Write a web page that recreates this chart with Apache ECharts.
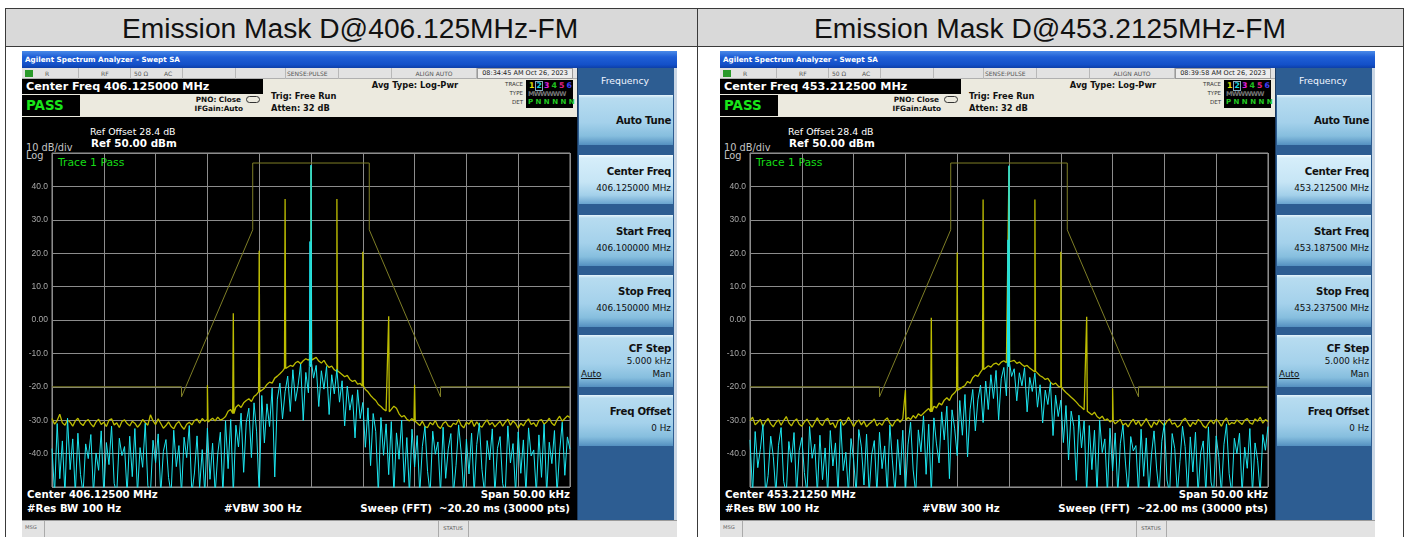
<!DOCTYPE html>
<html><head><meta charset="utf-8">
<script src="https://cdn.jsdelivr.net/npm/echarts@6/dist/echarts.min.js"></script>
<style>
html,body{margin:0;padding:0;background:#fff;}
#page{position:relative;width:1408px;height:537px;overflow:hidden;font-family:"Liberation Sans",Arial,sans-serif;}
#chart{position:absolute;left:0;top:0;width:1408px;height:537px;z-index:5;pointer-events:none;}
</style></head><body><div id="page"><div id="chart"></div></div>
<script>
// ---------- DATA ----------
const headerTitles = ['Emission Mask D@406.125MHz-FM', 'Emission Mask D@453.2125MHz-FM'];
const centerFreqText = ['406.125000 MHz', '453.212500 MHz'];
const centerBottomText = ['406.12500 MHz', '453.21250 MHz'];
const startFreqText = ['406.100000 MHz', '453.187500 MHz'];
const stopFreqText = ['406.150000 MHz', '453.237500 MHz'];
const timeStamp = ['08:34:45 AM Oct 26, 2023', '08:39:58 AM Oct 26, 2023'];
const sweepText = ['Sweep (FFT)&nbsp; ~20.20 ms (30000 pts)', 'Sweep (FFT)&nbsp; ~22.00 ms (30000 pts)'];
const yTickLabels = ['', '-40.0', '-30.0', '-20.0', '-10.0', '0.00', '10.0', '20.0', '30.0', '40.0', ''];
const freqStart = -25, freqStep = 0.25;   // kHz offset from centre, trace sample grid
const maskFreqs = [-25, -12.5, -12.5, -5.625, -5.625, 5.625, 5.625, 12.5, 12.5, 25];
const maskLevels = [-20, -20, -23, 27, 47, 47, 27, -23, -20, -20];
const spikeFreqs = [-10, -7.5, -5, -2.5, 0, 2.5, 5, 7.5, 10];
const spikePeaks406 = [-19.5, 2.0, 20.7, 36.2, 46.0, 36.2, 20.4, 1.1, -19.4];
const spikeBases406 = [-30.5, -28.0, -21.5, -14.5, -12.0, -15.2, -19.8, -27.5, -30.3];
const spikePeaks453 = [-21.0, 0.7, 20.2, 36.1, 46.0, 36.1, 20.4, 1.0, -20.5];
const spikeBases453 = [-30.0, -27.5, -21.0, -14.8, -12.5, -15.3, -20.0, -27.3, -30.2];
const cyanSpikeFreqs = [-0.1, 0];
const cyanSpikePeaks406 = [23.5, 46.4];
const cyanSpikePeaks453 = [24.0, 46.2];
const cyanSpikeBases = [-14.0, -13.0];
const yellow406 = [
-29.5,-31.2,-30.1,-28.2,-30.8,-31.5,-29.9,-30.6,-31.8,-30.2,
-29.4,-30.9,-31.6,-30.3,-29.8,-31.1,-32.0,-30.5,-29.7,-31.3,
-30.6,-31.9,-30.0,-29.6,-31.4,-30.8,-32.2,-30.4,-29.9,-31.0,
-31.7,-30.3,-30.9,-32.1,-31.2,-29.8,-30.7,-31.5,-28.4,-30.2,
-31.3,-29.6,-31.0,-32.4,-31.6,-30.5,-31.9,-32.6,-31.1,-30.4,
-31.8,-32.7,-31.2,-30.6,-31.4,-30.1,-29.7,-30.9,-29.5,-30.3,
-29.8,-30.7,-29.4,-30.2,-29.1,-30.0,-29.6,-28.9,-27.3,-26.8,
-27.9,-26.1,-25.4,-26.2,-24.8,-24.1,-23.6,-24.4,-22.9,-22.3,
-21.6,-21.2,-20.4,-19.3,-18.6,-18.9,-17.4,-16.8,-16.1,-15.3,
-14.6,-14.0,-13.6,-13.9,-12.8,-12.4,-13.1,-12.2,-11.6,-12.0,
-11.4,-11.8,-11.2,-12.3,-12.9,-12.1,-13.4,-14.2,-13.8,-14.9,
-15.4,-15.1,-16.3,-17.0,-16.6,-17.8,-18.4,-18.1,-19.2,-19.0,
-19.6,-20.8,-21.5,-22.6,-23.4,-24.1,-25.3,-25.9,-26.7,-27.2,
-27.6,-27.0,-25.8,-26.4,-28.1,-29.0,-28.6,-29.7,-30.2,-29.5,
-30.4,-30.8,-31.6,-30.3,-31.9,-32.2,-30.7,-31.4,-30.1,-31.8,
-32.5,-31.0,-30.4,-31.7,-32.0,-30.9,-31.3,-29.8,-31.5,-32.3,
-30.6,-31.2,-30.0,-31.9,-30.5,-31.6,-32.1,-30.8,-29.9,-31.4,
-30.7,-32.0,-31.1,-30.3,-31.8,-30.6,-29.7,-31.5,-30.2,-31.0,
-32.4,-30.9,-31.7,-30.4,-29.6,-31.3,-30.8,-31.9,-30.1,-29.8,
-31.2,-30.5,-29.4,-30.9,-31.6,-29.9,-28.8,-30.3,-29.5,-28.7,
-29.2];
const cyan406 = [
-38.5,-52,-31.0,-47.5,-36.2,-52,-29.4,-44.8,-35.6,-52,
-33.9,-46.2,-52,-37.1,-41.5,-34.3,-52,-39.8,-45.0,-33.2,
-52,-36.7,-43.3,-31.8,-48.9,-52,-35.4,-40.6,-37.9,-52,
-34.8,-46.9,-32.5,-52,-38.2,-44.1,-30.9,-49.6,-52,-36.0,
-42.7,-34.1,-52,-39.3,-35.8,-47.2,-52,-33.0,-43.9,-37.6,
-52,-35.1,-41.2,-31.6,-52,-45.8,-34.7,-50.3,-38.8,-52,
-32.4,-47.7,-36.9,-52,-40.1,-33.6,-52,-30.2,-44.5,-29.8,
-52,-31.5,-38.0,-27.9,-45.6,-30.7,-26.4,-41.2,-24.8,-33.5,
-52,-22.6,-36.8,-25.1,-31.9,-20.4,-47.0,-23.7,-18.9,-29.6,
-21.5,-16.8,-27.4,-14.9,-24.3,-19.6,-13.2,-30.1,-15.7,-21.8,
-12.9,-17.4,-13.6,-25.9,-15.2,-20.7,-13.9,-28.3,-16.4,-22.1,
-14.8,-24.6,-18.2,-31.7,-19.8,-27.0,-22.4,-35.3,-20.9,-29.5,
-24.7,-38.1,-26.3,-43.6,-28.0,-33.4,-52,-29.2,-40.5,-31.1,
-46.3,-30.4,-52,-33.8,-41.7,-30.0,-48.6,-35.2,-52,-32.7,
-44.0,-34.6,-52,-37.8,-31.9,-45.3,-52,-33.3,-40.2,-36.5,
-52,-32.1,-47.4,-38.6,-34.0,-52,-43.5,-31.4,-39.9,-52,
-35.7,-46.1,-33.9,-52,-37.3,-30.8,-44.7,-52,-36.1,-41.9,
-32.6,-52,-38.4,-34.9,-49.0,-52,-31.7,-42.8,-37.0,-52,
-33.5,-45.9,-35.9,-52,-32.3,-40.7,-38.9,-52,-34.4,-47.1,
-31.2,-52,-36.6,-43.0,-33.1,-52,-39.4,-30.6,-46.5,-35.0,
-38.7];
const yellow453 = [
-30.2,-29.1,-31.4,-30.6,-29.8,-31.9,-30.4,-29.5,-31.1,-32.0,
-30.7,-29.9,-31.5,-30.1,-28.9,-30.8,-31.7,-30.3,-29.6,-31.2,
-31.8,-30.5,-29.7,-31.0,-32.1,-30.6,-29.3,-30.9,-31.6,-30.0,
-29.4,-31.3,-30.8,-32.3,-30.2,-29.8,-31.5,-30.7,-29.1,-30.4,
-31.9,-30.6,-29.9,-31.4,-30.3,-32.0,-31.1,-30.5,-29.6,-31.7,
-30.8,-31.5,-30.0,-29.3,-30.9,-31.8,-30.4,-29.7,-30.6,-29.5,
-30.1,-29.2,-29.8,-28.6,-29.4,-28.1,-28.7,-27.9,-27.2,-26.5,
-27.4,-25.8,-26.3,-24.9,-25.4,-24.0,-23.3,-24.1,-22.5,-21.8,
-21.3,-20.9,-20.1,-19.6,-18.4,-18.9,-17.3,-16.5,-16.9,-15.6,
-14.8,-14.5,-13.7,-14.1,-13.2,-12.9,-13.5,-12.6,-12.2,-12.8,
-12.4,-12.7,-12.1,-13.0,-12.6,-13.3,-13.9,-13.6,-14.4,-15.0,
-15.6,-15.9,-16.7,-17.1,-17.8,-17.5,-18.6,-19.3,-18.9,-19.8,
-20.2,-20.9,-21.7,-22.4,-23.1,-23.8,-24.6,-25.5,-26.1,-26.9,
-27.3,-27.8,-28.4,-27.6,-28.9,-29.5,-28.8,-30.1,-29.6,-30.5,
-30.0,-31.1,-30.4,-29.8,-31.5,-30.9,-32.0,-30.6,-29.7,-31.3,
-30.2,-31.8,-30.7,-29.5,-31.0,-32.2,-30.5,-31.4,-29.9,-30.8,
-31.6,-30.3,-29.6,-31.2,-30.8,-32.1,-31.5,-30.1,-29.4,-30.7,
-31.9,-30.6,-31.3,-29.8,-30.4,-31.7,-32.3,-30.9,-30.0,-31.1,
-29.7,-30.5,-31.8,-30.2,-29.3,-31.4,-30.7,-31.0,-29.9,-30.6,
-31.3,-30.0,-29.5,-30.8,-31.2,-29.6,-30.3,-29.1,-30.9,-29.8,
-30.4];
const cyan453 = [
-35.9,-52,-33.4,-44.2,-38.7,-31.3,-52,-46.6,-34.8,-40.9,
-52,-37.5,-32.2,-48.3,-52,-36.4,-42.6,-33.7,-52,-39.1,
-35.2,-45.7,-52,-31.9,-41.4,-37.2,-52,-34.5,-47.8,-38.3,
-52,-33.1,-43.7,-36.8,-52,-30.5,-45.1,-39.6,-52,-35.5,
-41.8,-52,-32.8,-38.0,-49.4,-34.2,-52,-40.3,-36.1,-52,
-33.6,-44.5,-37.7,-52,-31.4,-42.2,-52,-35.8,-46.4,-33.0,
-52,-37.4,-30.6,-44.9,-52,-32.9,-39.5,-28.7,-46.2,-31.2,
-52,-29.3,-37.1,-42.8,-27.5,-35.9,-25.8,-47.5,-26.9,-32.4,
-40.6,-24.1,-34.5,-22.3,-41.0,-26.7,-20.8,-33.2,-23.9,-19.5,
-30.7,-18.3,-26.8,-16.4,-23.5,-15.1,-29.9,-17.6,-14.2,-22.7,
-13.8,-16.9,-14.6,-24.2,-15.8,-19.7,-14.3,-27.5,-17.2,-21.4,
-15.9,-26.1,-19.4,-30.8,-21.0,-25.3,-18.7,-34.6,-22.5,-28.9,
-24.0,-36.7,-25.6,-41.9,-27.3,-31.8,-48.0,-28.5,-38.3,-30.2,
-52,-31.6,-44.8,-33.0,-52,-29.9,-39.7,-35.6,-52,-32.4,
-45.2,-33.8,-52,-36.9,-31.5,-43.1,-52,-34.9,-39.2,-37.6,
-52,-32.7,-46.8,-35.3,-52,-40.4,-33.2,-44.6,-52,-36.3,
-30.9,-47.9,-52,-34.0,-38.5,-52,-42.3,-31.8,-37.9,-52,
-35.0,-45.5,-33.6,-52,-39.8,-36.2,-52,-32.0,-48.5,-52,
-34.7,-41.1,-52,-37.2,-31.1,-46.0,-52,-35.4,-40.0,-33.9,
-52,-38.1,-44.4,-32.5,-52,-36.8,-42.0,-52,-34.3,-39.0,
-31.9];

// ---------- CHROME (HTML) ----------
const page = document.getElementById('page');
function el(parent, css, html) {
  const d = document.createElement('div');
  d.style.cssText = 'position:absolute;box-sizing:border-box;' + css;
  if (html != null) d.innerHTML = html;
  parent.appendChild(d);
  return d;
}
function txt(parent, x, cy, s, fs, color, bold, align, extra) {
  const tr = align === 'right' ? 'translateX(-100%)' : align === 'center' ? 'translateX(-50%)' : 'none';
  return el(parent, `left:${x}px;top:${(cy - fs * 0.49).toFixed(2)}px;font-size:${fs}px;line-height:1;white-space:nowrap;color:${color};font-weight:${bold ? 'bold' : 'normal'};transform:${tr};${extra || ''}`, s);
}

// table
const TB = '#3a3a3a';
el(page, 'left:5px;top:9px;width:1399px;height:38px;background:#d9d9d9;');
el(page, `left:5px;top:8px;width:1399px;height:1px;background:${TB};`);
el(page, `left:5px;top:46px;width:1399px;height:1px;background:${TB};`);
[5, 697, 1403].forEach(x => el(page, `left:${x}px;top:8px;width:1px;height:529px;background:${TB};`));
txt(page, 350, 27.5, headerTitles[0], 28.2, '#111', false, 'center');
txt(page, 1050, 27.5, headerTitles[1], 28.2, '#111', false, 'center');

function makeScreen(X, k) {
  const s = el(page, `left:${X}px;top:51px;width:655px;height:486px;background:#000;overflow:hidden;font-family:'DejaVu Sans',sans-serif;`);
  // title bar
  el(s, 'left:0;top:0;width:655px;height:17px;background:linear-gradient(#4a8ae8,#1f5fd6 35%,#1350c8 80%,#0d3fa8);');
  txt(s, 3, 8.5, 'Agilent Spectrum Analyzer - Swept SA', 7.2, '#fff', true);
  // status row
  el(s, 'left:0;top:17px;width:555px;height:11px;background:#e2e2e2;border-bottom:1px solid #b0b0b0;');
  el(s, 'left:3px;top:19px;width:8px;height:7px;background:#2a9a2a;');
  txt(s, 23, 22.5, 'R', 6, '#555');
  [56, 108, 160, 213, 263, 316, 369, 454].forEach(x => el(s, `left:${x}px;top:17px;width:1px;height:11px;background:#b8b8b8;`));
  txt(s, 79, 22.5, 'RF', 6, '#555');
  txt(s, 112, 22.5, '50 Ω', 6, '#555');
  txt(s, 142, 22.5, 'AC', 6, '#555');
  txt(s, 265, 22.5, 'SENSE:PULSE', 6, '#555');
  txt(s, 412, 22.5, 'ALIGN AUTO', 6, '#555', false, 'center');
  el(s, 'left:455px;top:17px;width:96px;height:11px;border:1px solid #9a9a9a;background:#ececec;');
  txt(s, 503, 22.5, timeStamp[k], 6.5, '#222', false, 'center');
  // second row
  el(s, 'left:0;top:28px;width:555px;height:38px;background:#eceadf;');
  el(s, 'left:0;top:28px;width:241px;height:15px;background:#000;');
  txt(s, 4, 35.5, 'Center Freq ' + centerFreqText[k], 11.2, '#fff', true);
  el(s, 'left:0;top:44px;width:58px;height:21px;background:#000;');
  txt(s, 4, 54.5, 'PASS', 13.4, '#19e619', true);
  txt(s, 219, 49, 'PNO: Close', 7.3, '#111', true, 'right');
  txt(s, 221, 58, 'IFGain:Auto', 7.3, '#111', true, 'right');
  el(s, 'left:224px;top:45px;width:14px;height:7px;border:1px solid #333;border-radius:4px;');
  txt(s, 249, 45.5, 'Trig: Free Run', 8.3, '#111', true);
  txt(s, 249, 57.5, 'Atten: 32 dB', 8.3, '#111', true);
  txt(s, 393, 34.5, 'Avg Type: Log-Pwr', 8.3, '#111', true, 'center');
  txt(s, 501, 33.5, 'TRACE', 5.5, '#333', false, 'right');
  txt(s, 501, 42.5, 'TYPE', 5.5, '#333', false, 'right');
  txt(s, 501, 51.5, 'DET', 5.5, '#333', false, 'right');
  el(s, 'left:504px;top:29px;width:47px;height:28px;background:#000;');
  const tc = ['#e0e000', '#19d9e0', '#e020e0', '#20c020', '#e02080', '#4040ff'];
  tc.forEach((c, i) => txt(s, 507 + i * 7.5, 35, String(i + 1), 7.8, c, true));
  el(s, 'left:513px;top:30px;width:8px;height:10px;border:1px solid #8ab;');
  txt(s, 506, 43, 'MWWWWW', 6.5, '#777', true, 'left', 'letter-spacing:-0.8px;');
  txt(s, 506, 51.5, 'P N N N N N', 7, '#22cc22', true);
  // display texts
  txt(s, 68, 81, 'Ref Offset 28.4 dB', 9.4, '#fff');
  txt(s, 69, 92.5, 'Ref 50.00 dBm', 10.4, '#fff', true);
  txt(s, 4, 97, '10 dB/div', 9.8, '#c4c4c4');
  txt(s, 4, 104.5, 'Log', 9.8, '#c4c4c4');
  txt(s, 36, 112, 'Trace 1 Pass', 10.8, '#16dc16');
  txt(s, 5, 444, 'Center ' + centerBottomText[k], 10.2, '#fff', true);
  txt(s, 5, 458, '#Res BW 100 Hz', 10.2, '#fff', true);
  txt(s, 202, 458, '#VBW 300 Hz', 10.2, '#fff', true);
  txt(s, 548, 444, 'Span 50.00 kHz', 10.2, '#fff', true, 'right');
  txt(s, 548, 458, sweepText[k], 10.2, '#fff', true, 'right');
  // msg bar
  el(s, 'left:0;top:469px;width:655px;height:17px;background:#e3e3e3;border-top:1px solid #9a9a9a;');
  txt(s, 3, 477, 'MSG', 5.2, '#666');
  [22, 416, 446].forEach(x => el(s, `left:${x}px;top:470px;width:1px;height:16px;background:#aaa;`));
  txt(s, 431, 477.5, 'STATUS', 5.2, '#555', false, 'center');
  // frequency panel
  el(s, 'left:555px;top:17px;width:97px;height:452px;background:#2d5d92;border-left:1px solid #1a3a60;');
  el(s, 'left:652px;top:17px;width:3px;height:452px;background:#c9d6e4;');
  txt(s, 603, 30, 'Frequency', 9.3, '#f0f4ff', false, 'center');
  const btns = [
    [44, 50, 'Auto Tune', null, false],
    [104, 49, 'Center Freq', centerFreqText[k], true],
    [164, 51, 'Start Freq', startFreqText[k], false],
    [224, 52, 'Stop Freq', stopFreqText[k], false],
    [284, 52, 'CF Step', '5.000 kHz', false],
    [344, 51, 'Freq Offset', '0 Hz', false]
  ];
  btns.forEach(([top, h, t1, t2, sel]) => {
    const g = sel
      ? 'linear-gradient(#f6fcff 0px,#d6eefa 3px,#c6e5f5 55%,#a3d0ea 82%,#6aa4cf 100%)'
      : 'linear-gradient(#e6f4fb 0px,#b7dcf0 3px,#a4d1eb 55%,#86bede 82%,#5490c0 100%)';
    el(s, `left:557px;top:${top}px;width:94px;height:${h}px;background:${g};`);
    const ls = 'letter-spacing:-0.3px;';
    if (t2 == null) {
      txt(s, 649, top + h / 2 + 1, t1, 10.2, '#111', true, 'right', ls);
    } else if (t1 === 'CF Step') {
      txt(s, 649, top + 14, t1, 10.2, '#111', true, 'right', ls);
      txt(s, 649, top + 26, t2, 8.8, '#111', false, 'right');
      txt(s, 649, top + 39, 'Man', 8.8, '#111', false, 'right');
      txt(s, 559, top + 39, 'Auto', 8.8, '#111', false, 'left', 'text-decoration:underline;');
    } else {
      txt(s, 649, top + 17, t1, 10.2, '#111', true, 'right', ls);
      txt(s, 649, top + 33, t2, 8.8, '#111', false, 'right');
    }
  });
  return s;
}
makeScreen(22, 0);
makeScreen(720, 1);

// ---------- CHART ----------
const SPIKE_W = 0.06;
function traceData(vals, sf, sp, sb) {
  const pts = vals.map((v, i) => [freqStart + i * freqStep, v]);
  sf.forEach((f, j) => { pts.push([f - SPIKE_W, sb[j]], [f, sp[j]], [f + SPIKE_W, sb[j]]); });
  pts.sort((a, b) => a[0] - b[0]);
  return pts;
}
const maskData = maskFreqs.map((f, i) => [f, maskLevels[i]]);
const gridLeft = [52, 750];
const chart = echarts.init(document.getElementById('chart'), null, { renderer: 'canvas' });
const gl = '#8c8c8c';
const option = {
  animation: false,
  backgroundColor: 'transparent',
  grid: gridLeft.map(l => ({ left: l, top: 153, width: 518, height: 334, show: true, borderColor: '#999', borderWidth: 1, backgroundColor: 'transparent' })),
  xAxis: gridLeft.map((l, i) => ({
    gridIndex: i, type: 'value', min: -25, max: 25, interval: 5,
    axisLabel: { show: false }, axisTick: { show: false }, axisLine: { show: false },
    splitLine: { show: true, lineStyle: { color: gl, width: 1 } }
  })),
  yAxis: gridLeft.map((l, i) => ({
    gridIndex: i, type: 'value', min: -50, max: 50, interval: 10,
    axisTick: { show: false }, axisLine: { show: false },
    splitLine: { show: true, lineStyle: { color: gl, width: 1 } },
    axisLabel: { color: '#a8a8a8', fontSize: 8.5, margin: 4, fontFamily: 'Liberation Sans',
      formatter: v => yTickLabels[Math.round((v + 50) / 10)] }
  })),
  series: []
};
const panels = [
  { y: yellow406, c: cyan406, sp: spikePeaks406, sb: spikeBases406, cp: cyanSpikePeaks406 },
  { y: yellow453, c: cyan453, sp: spikePeaks453, sb: spikeBases453, cp: cyanSpikePeaks453 }
];
panels.forEach((p, i) => {
  option.series.push({ type: 'line', xAxisIndex: i, yAxisIndex: i, data: maskData, symbol: 'none', lineStyle: { color: '#7e7e26', width: 1 }, z: 2 });
  option.series.push({ type: 'line', xAxisIndex: i, yAxisIndex: i, data: traceData(p.y, spikeFreqs, p.sp, p.sb), symbol: 'none', lineStyle: { color: '#bcbc00', width: 1.3 }, z: 3 });
  option.series.push({ type: 'line', xAxisIndex: i, yAxisIndex: i, data: traceData(p.c, cyanSpikeFreqs, p.cp, cyanSpikeBases), symbol: 'none', lineStyle: { color: '#1ce6f0', width: 1 }, z: 4 });
});
chart.setOption(option);
</script></body></html>
